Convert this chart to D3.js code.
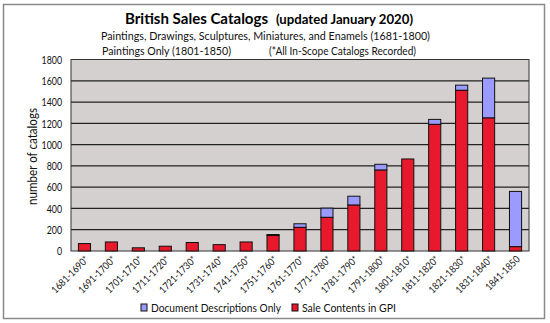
<!DOCTYPE html>
<html><head><meta charset="utf-8">
<script src="https://cdn.jsdelivr.net/npm/d3@7/dist/d3.min.js"></script>
<style>body{margin:0;background:#fff}svg{display:block}text{font-family:Lato,"Open Sans",sans-serif}</style>
</head><body>
<script>
const categories = ["1681-1690*","1691-1700*","1701-1710*","1711-1720*","1721-1730*","1731-1740*","1741-1750*","1751-1760*","1761-1770*","1771-1780*","1781-1790*","1791-1800*","1801-1810*","1811-1820*","1821-1830*","1831-1840*","1841-1850"];
const saleContents = [70,85,30,45,80,60,85,145,222,316,431,760,865,1190,1510,1250,40];
const docDescriptions = [0,0,0,0,0,0,0,10,34,87,84,55,0,47,49,375,520];
const yTicks = [0,200,400,600,800,1000,1200,1400,1600,1800];
const seriesNames = ["Document Descriptions Only","Sale Contents in GPI"];
const colors = {red:"#e8192c", blue:"#9b9bff"};

const W=550,H=323;
const svg=d3.select("body").append("svg").attr("width",W).attr("height",H);
function squeeze(sel,width){
  sel.attr("textLength",width).attr("lengthAdjust","spacingAndGlyphs");
  return sel;
}
svg.append("rect").attr("x",3.5).attr("y",4.5).attr("width",541).attr("height",314)
  .attr("fill","#fff").attr("stroke","#8a8a8a").attr("stroke-width",1.5);

const L=71,R=529,T=59.5,B=251;
const x=d3.scaleBand().domain(categories).range([L,R]).paddingInner(0.55).paddingOuter(0.275);
const y=d3.scaleLinear().domain([0,1800]).range([B,T]);

svg.append("rect").attr("x",L).attr("y",T).attr("width",R-L).attr("height",B-T).attr("fill","#d4d0d0");
svg.append("g").selectAll("line").data(yTicks.slice(1)).join("line")
  .attr("x1",L).attr("x2",R).attr("y1",d=>y(d)).attr("y2",d=>y(d))
  .attr("stroke","#222").attr("stroke-width",1.2);
svg.append("rect").attr("x",L).attr("y",T).attr("width",R-L).attr("height",B-T)
  .attr("fill","none").attr("stroke","#333").attr("stroke-width",1);

const g=svg.append("g");
categories.forEach((c,i)=>{
  const r=saleContents[i], b=docDescriptions[i];
  if(b>0) g.append("rect").attr("x",x(c)).attr("width",x.bandwidth())
    .attr("y",y(r+b)).attr("height",y(r)-y(r+b)).attr("fill",colors.blue).attr("stroke","#111").attr("stroke-width",1);
  g.append("rect").attr("x",x(c)).attr("width",x.bandwidth())
    .attr("y",y(r)).attr("height",y(0)-y(r)).attr("fill",colors.red).attr("stroke","#111").attr("stroke-width",1);
});

const ya=svg.append("g").attr("transform",`translate(${L},0)`)
  .call(d3.axisLeft(y).tickValues(yTicks).tickFormat(d3.format("d")).tickSize(0).tickPadding(9));
ya.select(".domain").remove();
ya.selectAll("text").attr("font-size",10.5).attr("fill","#111").attr("dy","0.36em")
  .style("font-family","Lato,'Open Sans',sans-serif");
ya.selectAll("text").each(function(d){ squeeze(d3.select(this), String(d).length*5.1); });

const xa=svg.append("g").attr("transform",`translate(0,${B})`)
  .call(d3.axisBottom(x).tickSize(0).tickPadding(0));
xa.select(".domain").remove();
xa.selectAll("text").attr("font-size",10).attr("fill","#111")
  .attr("text-anchor","end").attr("dy",0).attr("y",0)
  .attr("transform","translate(5,9) rotate(-45)")
  .style("font-family","Lato,'Open Sans',sans-serif");
xa.selectAll("text").each(function(d){ squeeze(d3.select(this), d.endsWith("*")?48:44); });

squeeze(svg.append("text").attr("transform","translate(36.5,156.5) rotate(-90)").attr("text-anchor","middle")
  .attr("font-size",13).attr("fill","#111").text("number of catalogs"),97);

squeeze(svg.append("text").attr("x",125).attr("y",24).attr("fill","#000").attr("font-weight","bold").attr("font-size",15.5).text("British Sales Catalogs"),143);
squeeze(svg.append("text").attr("x",276).attr("y",24).attr("fill","#000").attr("font-weight","bold").attr("font-size",12.5).text("(updated January 2020)"),137);
squeeze(svg.append("text").attr("x",101).attr("y",40).attr("font-size",11).attr("fill","#111")
  .text("Paintings, Drawings, Sculptures, Miniatures, and Enamels (1681-1800)"),329);
squeeze(svg.append("text").attr("x",102).attr("y",55).attr("font-size",11).attr("fill","#111").text("Paintings Only (1801-1850)"),129);
squeeze(svg.append("text").attr("x",269).attr("y",55).attr("font-size",11).attr("fill","#111").text("(*All In-Scope Catalogs Recorded)"),147);

const leg=[{name:seriesNames[0],c:colors.blue,x:141,w:130},{name:seriesNames[1],c:colors.red,x:292,w:94}];
leg.forEach(d=>{
  svg.append("rect").attr("x",d.x).attr("y",304).attr("width",6).attr("height",7).attr("fill",d.c).attr("stroke","#111").attr("stroke-width",1);
  squeeze(svg.append("text").attr("x",d.x+10).attr("y",311.5).attr("font-size",11).attr("fill","#111").text(d.name),d.w);
});
</script>
</body></html>
